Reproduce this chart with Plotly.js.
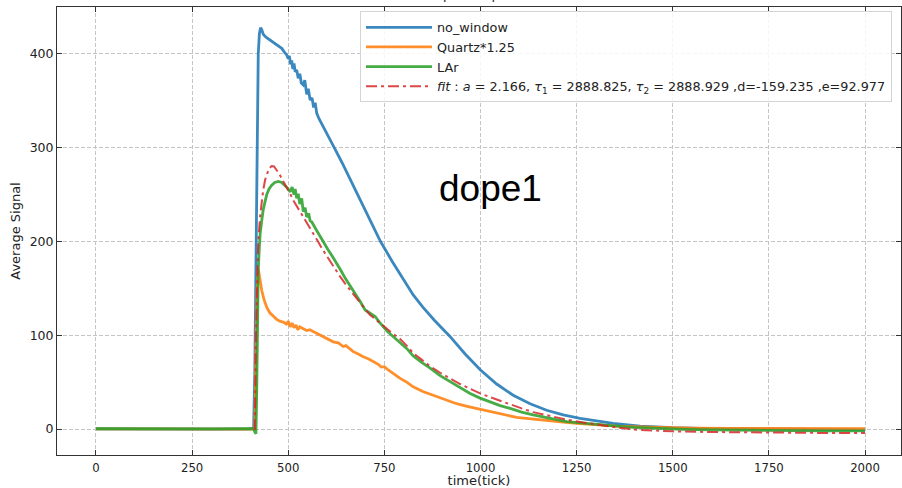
<!DOCTYPE html>
<html>
<head>
<meta charset="utf-8">
<script src="https://cdn.plot.ly/plotly-3.0.1.min.js"></script>
<style>
html,body{margin:0;padding:0;background:#fff;overflow:hidden;}
#chart{width:902px;height:488px;}
</style>
</head>
<body>
<div id="chart"></div>
<script>
// ---- data ----
const xTickVals = [0, 250, 500, 750, 1000, 1250, 1500, 1750, 2000];
const yTickVals = [0, 100, 200, 300, 400];

const noWindowX = [0, 100, 200, 300, 400, 410, 413, 416, 419, 422, 425, 428, 431, 435, 442, 452, 462, 470, 478, 483, 490, 496, 500, 503, 506, 509, 512, 515, 518, 522, 526, 530, 534, 539, 543, 548, 552, 557, 562, 566, 570, 574, 580, 591, 609, 621, 640, 661, 687, 713, 740, 770, 800, 825, 850, 880, 920, 960, 1000, 1042, 1085, 1129, 1172, 1215, 1259, 1302, 1345, 1415, 1500, 1600, 1700, 1800, 1900, 2000];
const noWindowY = [0.2, -0.1, 0.3, 0, 0.2, 1, 60, 200, 330, 400, 422, 428, 426, 421, 418, 415, 412, 410, 408, 406, 402, 399, 395, 398, 389, 393, 384, 390, 381, 383, 374, 379, 369, 367, 372, 357, 363, 351, 353, 343, 348, 337, 331, 322, 308, 299, 284, 266, 244, 222, 200, 179, 159, 143, 130, 116, 99, 80, 63, 48, 36, 27, 20, 15, 11.4, 8.5, 6, 3.2, 1.5, 0.5, 0, -0.5, -0.7, -0.8];

const quartzX = [0, 100, 200, 300, 400, 410, 413, 416, 419, 422, 425, 431, 437, 444, 452, 461, 470, 478, 487, 495, 500, 505, 510, 515, 520, 525, 530, 539, 548, 556, 565, 578, 591, 604, 617, 630, 643, 650, 660, 669, 682, 695, 708, 721, 734, 742, 750, 760, 773, 782, 791, 808, 825, 850, 877, 907, 938, 968, 999, 1025, 1051, 1073, 1094, 1125, 1155, 1181, 1215, 1250, 1300, 1354, 1420, 1484, 1550, 1650, 1750, 1850, 1950, 2000];
const quartzY = [0.1, 0.2, -0.1, 0.2, 0.1, 0, 0, 80, 150, 171, 162, 148, 138, 130, 124, 120, 117, 115, 114, 112, 115, 109, 113, 108, 111, 106, 109, 107, 105, 106, 104, 101, 98.5, 96, 93, 92, 88, 89, 85, 82.5, 80, 77, 75, 72, 69, 66, 66.5, 63, 59, 57, 54, 50, 45, 40, 36, 32, 27, 24, 21, 18.5, 16, 14, 12.4, 11, 9.6, 8.9, 7.5, 6, 4.5, 3.2, 2.2, 1.4, 1, 0.8, 0.7, 0.6, 0.6, 0.5];

const larX = [0, 100, 200, 300, 400, 410, 413, 416, 418, 420, 422, 425, 427, 431, 435, 440, 444, 450, 457, 465, 474, 483, 491, 498, 505, 510, 515, 518, 522, 526, 530, 535, 539, 544, 548, 553, 557, 561, 572, 583, 594, 604, 615, 626, 637, 648, 661, 674, 687, 700, 713, 726, 737, 747, 758, 769, 780, 791, 808, 825, 847, 869, 895, 921, 947, 973, 999, 1025, 1051, 1077, 1107, 1137, 1172, 1198, 1224, 1267, 1311, 1354, 1397, 1450, 1527, 1600, 1700, 1800, 1900, 2000];
const larY = [0.3, 0, 0.4, 0.2, 0.5, 0, -3, -5, 40, 110, 170, 195, 209, 222, 234, 243, 250, 256, 260, 263, 264, 263, 260, 257, 253, 258, 250, 256, 246, 251, 240, 246, 232, 236, 226, 230, 222, 221, 213, 205, 198, 191, 184, 177, 169, 161, 153, 145, 136, 127, 123, 120, 114, 109, 104, 100, 96, 93, 86, 78, 71, 65, 57, 50.5, 44, 38, 33, 29, 25, 22, 18, 15, 12.5, 10, 7.8, 6, 4.3, 3, 1.8, 0.8, -0.3, -1, -1.5, -2, -2, -2];

const fitX = [410, 413, 416, 419, 422, 427, 431, 435, 440, 444, 450, 457, 463, 470, 477, 483, 490, 496, 505, 513, 522, 531, 540, 548, 557, 565, 576, 587, 598, 609, 622, 635, 648, 661, 674, 687, 700, 713, 726, 739, 752, 765, 778, 791, 808, 825, 847, 869, 895, 921, 947, 973, 999, 1025, 1051, 1077, 1107, 1137, 1180, 1224, 1267, 1311, 1354, 1397, 1450, 1500, 1600, 1700, 1800, 1900, 2000];
const fitY = [0, 0, 100, 170, 200, 228, 243, 255, 266, 272, 278, 280.5, 280, 276, 272, 267, 262, 258, 251, 244, 238, 232, 226, 221, 215, 209, 201, 193, 186, 178.5, 170, 162.5, 155, 148, 141, 134, 128, 121.6, 117, 112.7, 108, 104, 100, 96, 89, 81, 74, 67, 60, 54, 48, 43, 38, 34, 30, 26, 22, 18, 14, 10, 7, 4, 1.8, -0.5, -1.5, -2.5, -3.2, -3.8, -4, -4.2, -4.2];

const seriesNames = ['no_window', 'Quartz*1.25', 'LAr',
  '<i>fit</i> : <i>a</i> = 2.166, <i>τ</i><sub>1</sub> = 2888.825, <i>τ</i><sub>2</sub> = 2888.929 ,d=-159.235 ,e=92.977'];

// ---- chart ----
const traces = [
  {x: noWindowX, y: noWindowY, name: seriesNames[0], mode: 'lines', line: {color: 'rgba(31,119,180,0.88)', width: 2.8}},
  {x: quartzX, y: quartzY, name: seriesNames[1], mode: 'lines', line: {color: 'rgba(255,127,14,0.88)', width: 2.8}},
  {x: larX, y: larY, name: seriesNames[2], mode: 'lines', line: {color: 'rgba(44,160,44,0.88)', width: 2.8}},
  {x: fitX, y: fitY, name: seriesNames[3], mode: 'lines', line: {color: 'rgba(214,39,40,0.85)', width: 2, dash: '11px,4px,3px,4px'}}
];

const axisCommon = {
  showline: true, linecolor: '#333', linewidth: 1, mirror: 'ticks',
  ticks: 'inside', ticklen: 5, tickwidth: 1, tickcolor: '#333',
  showgrid: true, gridcolor: '#c4c4c4', gridwidth: 1, griddash: '4px,2px',
  zeroline: false
};

const layout = {
  width: 902, height: 488,
  margin: {l: 57, r: 1, t: 7, b: 33, autoexpand: false},
  paper_bgcolor: '#fff', plot_bgcolor: '#fff',
  font: {family: 'DejaVu Sans', size: 13, color: '#222'},
  showlegend: true,
  legend: {
    x: 0.359, y: 0.99, xanchor: 'left', yanchor: 'top',
    bgcolor: 'rgba(255,255,255,0.85)', bordercolor: '#d4d4d4', borderwidth: 1,
    font: {family: 'DejaVu Sans', size: 12.8, color: '#222'},
    itemwidth: 66, tracegroupgap: 0
  },
  xaxis: Object.assign({}, axisCommon, {
    range: [-101.4, 2093.6], tickvals: xTickVals,
    tickfont: {family: 'DejaVu Sans Condensed, DejaVu Sans', size: 13, color: '#222'},
    title: {text: 'time(tick)', font: {family: 'DejaVu Sans', size: 13, color: '#222'}, standoff: 4}
  }),
  yaxis: Object.assign({}, axisCommon, {
    range: [-27.7, 450.1], tickvals: yTickVals,
    tickfont: {family: 'DejaVu Sans', size: 12.5, color: '#222'},
    title: {text: 'Average Signal', font: {family: 'DejaVu Sans', size: 13, color: '#222'}, standoff: 6}
  }),
  annotations: [
    {text: 'post dope1', xref: 'paper', yref: 'paper', x: 0.5, y: 1, xanchor: 'center', yanchor: 'bottom', yshift: 3, showarrow: false,
     font: {family: 'DejaVu Sans', size: 13, color: '#222'}},
    {text: 'dope1', xref: 'paper', yref: 'paper', x: 0.514, y: 0.594, xanchor: 'center', yanchor: 'middle', showarrow: false,
     font: {family: 'Liberation Sans, Arial', size: 37, color: '#000'}}
  ]
};

Plotly.newPlot('chart', traces, layout, {displayModeBar: false, staticPlot: true});
</script>
</body>
</html>
